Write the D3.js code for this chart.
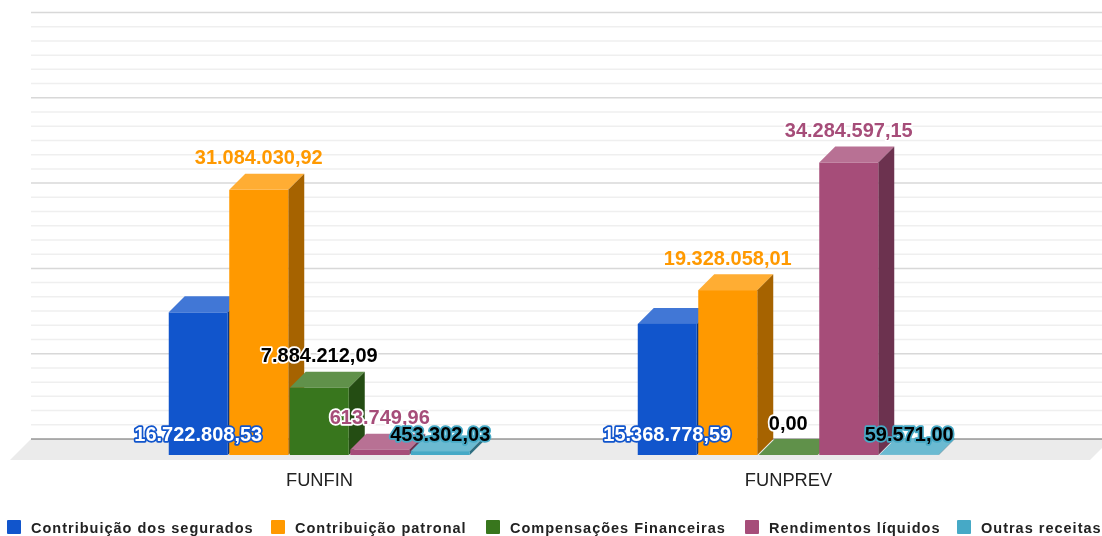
<!DOCTYPE html>
<html><head><meta charset="utf-8">
<script src="https://cdn.jsdelivr.net/npm/d3@7"></script>
<style>html,body{margin:0;padding:0;background:#fff;overflow:hidden}svg{display:block;filter:blur(0.5px)}text{font-family:"Liberation Sans",Arial,sans-serif}</style>
</head><body><svg id="c" width="1102" height="536"></svg>
<script>
const categories = ["FUNFIN", "FUNPREV"];
const seriesNames = ["Contribuição dos segurados", "Contribuição patronal", "Compensações Financeiras", "Rendimentos líquidos", "Outras receitas"];
const seriesColors = ["#1155cc", "#ff9900", "#38761d", "#a64d79", "#46a9c6"];
const labelFills = ["#ffffff", "#ff9900", "#000000", "#a64d79", "#000000"];
const labelHalos = ["#1155cc", "#ffffff", "#ffffff", "#ffffff", "#46a9c6"];
const funfinValues = [16722808.53, 31084030.92, 7884212.09, 613749.96, 453302.03];
const funprevValues = [15368778.59, 19328058.01, 0, 34284597.15, 59571.00];
const valuesByCategory = [funfinValues, funprevValues];
const legendX = [7, 271, 486, 745, 957];

const svg = d3.select("#c");
const depth = 16, baseFront = 455, baseBack = 439, gridL = 31, gridR = 1102;
const y = d3.scaleLinear().domain([0, 50000000]).range([baseFront, baseFront - 426.5]);
const gridTicks = d3.range(0, 50000001, 50000000 / 30);
const x0 = d3.scaleBand().domain(categories).range([85.5, 1023.5]);
const x1 = d3.scaleBand().domain(seriesNames).range([0, 302.5]);
const groupOffset = (x0.bandwidth() - 302.5) / 2;
const fmt = v => d3.formatLocale({decimal: ",", thousands: ".", grouping: [3], currency: ["", ""]}).format(",.2f")(v);

svg.append("path").attr("d", `M10,460 L${gridL},${baseBack} L1102,${baseBack} L1102,448 L1090,460 Z`).attr("fill", "#ebebeb");
svg.append("g").selectAll("line").data(gridTicks).join("line")
  .attr("x1", gridL).attr("x2", gridR)
  .attr("y1", d => y(d) - depth).attr("y2", d => y(d) - depth)
  .attr("stroke", (d, i) => i === 0 ? "#666" : i % 6 === 0 ? "#d8d8d8" : "#efefef")
  .attr("stroke-width", (d, i) => i === 0 ? 1.2 : 1.5);

const mix = (c, t, a) => d3.interpolateRgb(c, t)(a);
const bars = [];
categories.forEach((cat, ci) => seriesNames.forEach((s, si) => bars.push({cat, s, si, v: valuesByCategory[ci][si]})));
const bw = x1.bandwidth() - 1.5;
const g = svg.append("g");
bars.forEach(b => {
  const xl = x0(b.cat) + groupOffset + x1(b.s), xr = xl + bw, yt = y(b.v), c = seriesColors[b.si];
  g.append("path").attr("d", `M${xl},${yt} L${xl + depth},${yt - depth} L${xr + depth},${yt - depth} L${xr},${yt} Z`).attr("fill", mix(c, "#fff", 0.2));
  g.append("path").attr("d", `M${xr},${yt} L${xr + depth},${yt - depth} L${xr + depth},${baseFront - depth} L${xr},${baseFront} Z`).attr("fill", mix(c, "#000", 0.35));
  g.append("rect").attr("x", xl).attr("y", yt).attr("width", bw).attr("height", baseFront - yt).attr("fill", c);
});
const lab = svg.append("g");
bars.forEach(b => {
  const inside = b.si === 0 || b.si === 4;
  const cx = x0(b.cat) + groupOffset + x1(b.s) + bw / 2;
  const ly = inside ? baseFront - 14.5 : y(b.v) - 25.5;
  lab.append("text").attr("x", cx).attr("y", ly).attr("text-anchor", "middle")
    .attr("font-size", 20).attr("font-weight", "bold")
    .attr("fill", labelFills[b.si]).attr("stroke", labelHalos[b.si]).attr("stroke-width", b.si === 1 ? 0 : 3.4)
    .attr("stroke-linejoin", "round").attr("paint-order", "stroke").text(fmt(b.v));
});
svg.append("g").selectAll("text").data(categories).join("text")
  .attr("x", d => x0(d) + x0.bandwidth() / 2 - 0.5).attr("y", 486)
  .attr("text-anchor", "middle").attr("font-size", 18.3).attr("fill", "#222").text(d => d);
const lg = svg.append("g").selectAll("g").data(seriesNames).join("g").attr("transform", (d, i) => `translate(${legendX[i]},520)`);
lg.append("rect").attr("width", 14).attr("height", 14).attr("rx", 1).attr("fill", (d, i) => seriesColors[i]);
lg.append("text").attr("x", 24).attr("y", 13).attr("font-size", 14.5).attr("font-weight", "bold").attr("letter-spacing", 1).attr("fill", "#222").text(d => d);
</script></body></html>
